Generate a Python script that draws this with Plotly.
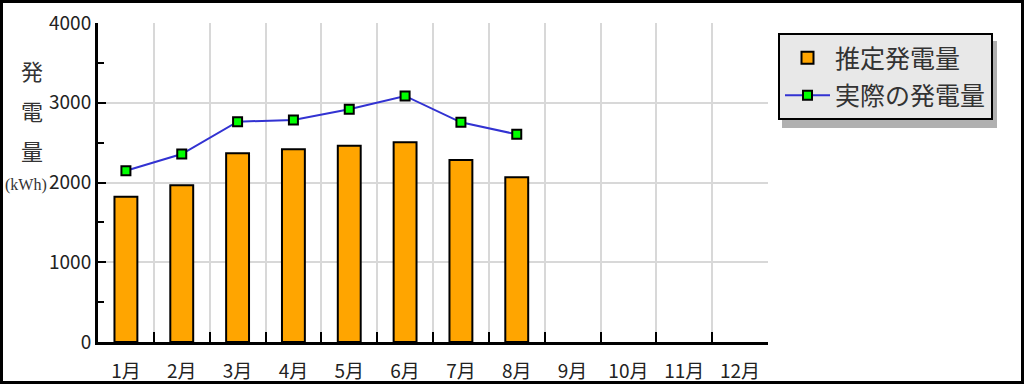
import plotly.graph_objects as go

months = ["1月", "2月", "3月", "4月", "5月", "6月", "7月", "8月", "9月", "10月", "11月", "12月"]
estimated = [1822, 1965, 2366, 2416, 2462, 2504, 2282, 2065, None, None, None, None]
actual = [2148, 2357, 2763, 2784, 2918, 3085, 2755, 2604, None, None, None, None]
y_ticks = [0, 1000, 2000, 3000, 4000]
name_est = "推定発電量"
name_act = "実際の発電量"
y_title = ["発", "電", "量", "(kWh)"]

W, H = 1024, 384
L, R, T, B = 98, 256, 23, 42
PW, PH = W - L - R, H - T - B
FONT = "Noto Sans CJK JP"

def px(x):
    return (x - L) / PW

def py(y):
    return (H - B - y) / PH

fig = go.Figure()
fig.add_trace(go.Bar(
    x=months, y=estimated, name=name_est, legendgroup="a",
    marker=dict(color="#FFA500", line=dict(color="black", width=2)),
))
fig.add_trace(go.Scatter(
    x=months, y=actual, name=name_act, mode="lines+markers", legendgroup="b",
    line=dict(color="#3232d2", width=2),
    marker=dict(symbol="square", size=9, color="#00FF00", line=dict(color="black", width=2)),
))

# outer frame
fig.add_shape(type="rect", xref="paper", yref="paper",
              x0=px(0), x1=px(W), y0=py(H), y1=py(0),
              line=dict(color="black", width=6), fillcolor="rgba(0,0,0,0)", layer="above")
# legend shadow
fig.add_shape(type="rect", xref="paper", yref="paper",
              x0=px(782), x1=px(997), y0=py(128), y1=py(41),
              line=dict(width=0), fillcolor="#b0b0b0", layer="below")

y_pos = [70, 110, 150, 185]
for i, t in enumerate(y_title):
    fig.add_annotation(text=t, xref="paper", yref="paper", x=px(32 if i < 3 else 26), y=py(y_pos[i]),
                       showarrow=False, xanchor="center", yanchor="middle",
                       font=dict(family=FONT if i < 3 else "Liberation Serif",
                                 size=22 if i < 3 else 16, color="#333"))

fig.update_layout(
    width=W, height=H,
    margin=dict(l=L, r=R, t=T, b=B, autoexpand=False),
    paper_bgcolor="white", plot_bgcolor="white",
    bargap=0.59,
    showlegend=True,
    legend=dict(x=px(778), y=py(33), xanchor="left", yanchor="top",
                bgcolor="#e8e8e8", bordercolor="black", borderwidth=2,
                font=dict(family=FONT, size=25, color="#333"),
                itemwidth=45, tracegroupgap=2),
    font=dict(family=FONT, color="black"),
)
fig.update_xaxes(
    type="category", range=[-0.5, 11.5], automargin=False,
    showline=True, linecolor="black", linewidth=3,
    showgrid=True, gridcolor="#d8d8d8", gridwidth=2,
    tickson="boundaries", ticks="inside", ticklen=10, tickwidth=2, tickcolor="black",
    tickfont=dict(family=FONT, size=19, color="#222"),
    ticklabelstandoff=10,
    zeroline=False,
)
fig.update_yaxes(
    range=[0, 4000], tickvals=y_ticks, automargin=False,
    showline=True, linecolor="black", linewidth=3,
    showgrid=True, gridcolor="#d8d8d8", gridwidth=2,
    ticks="inside", ticklen=8, tickwidth=2, tickcolor="black",
    minor=dict(dtick=500, ticks="inside", ticklen=6, tickwidth=2, tickcolor="black", showgrid=False),
    tickfont=dict(family=FONT, size=19, color="#222"),
    zeroline=False,
)

fig.write_html("out.html")
